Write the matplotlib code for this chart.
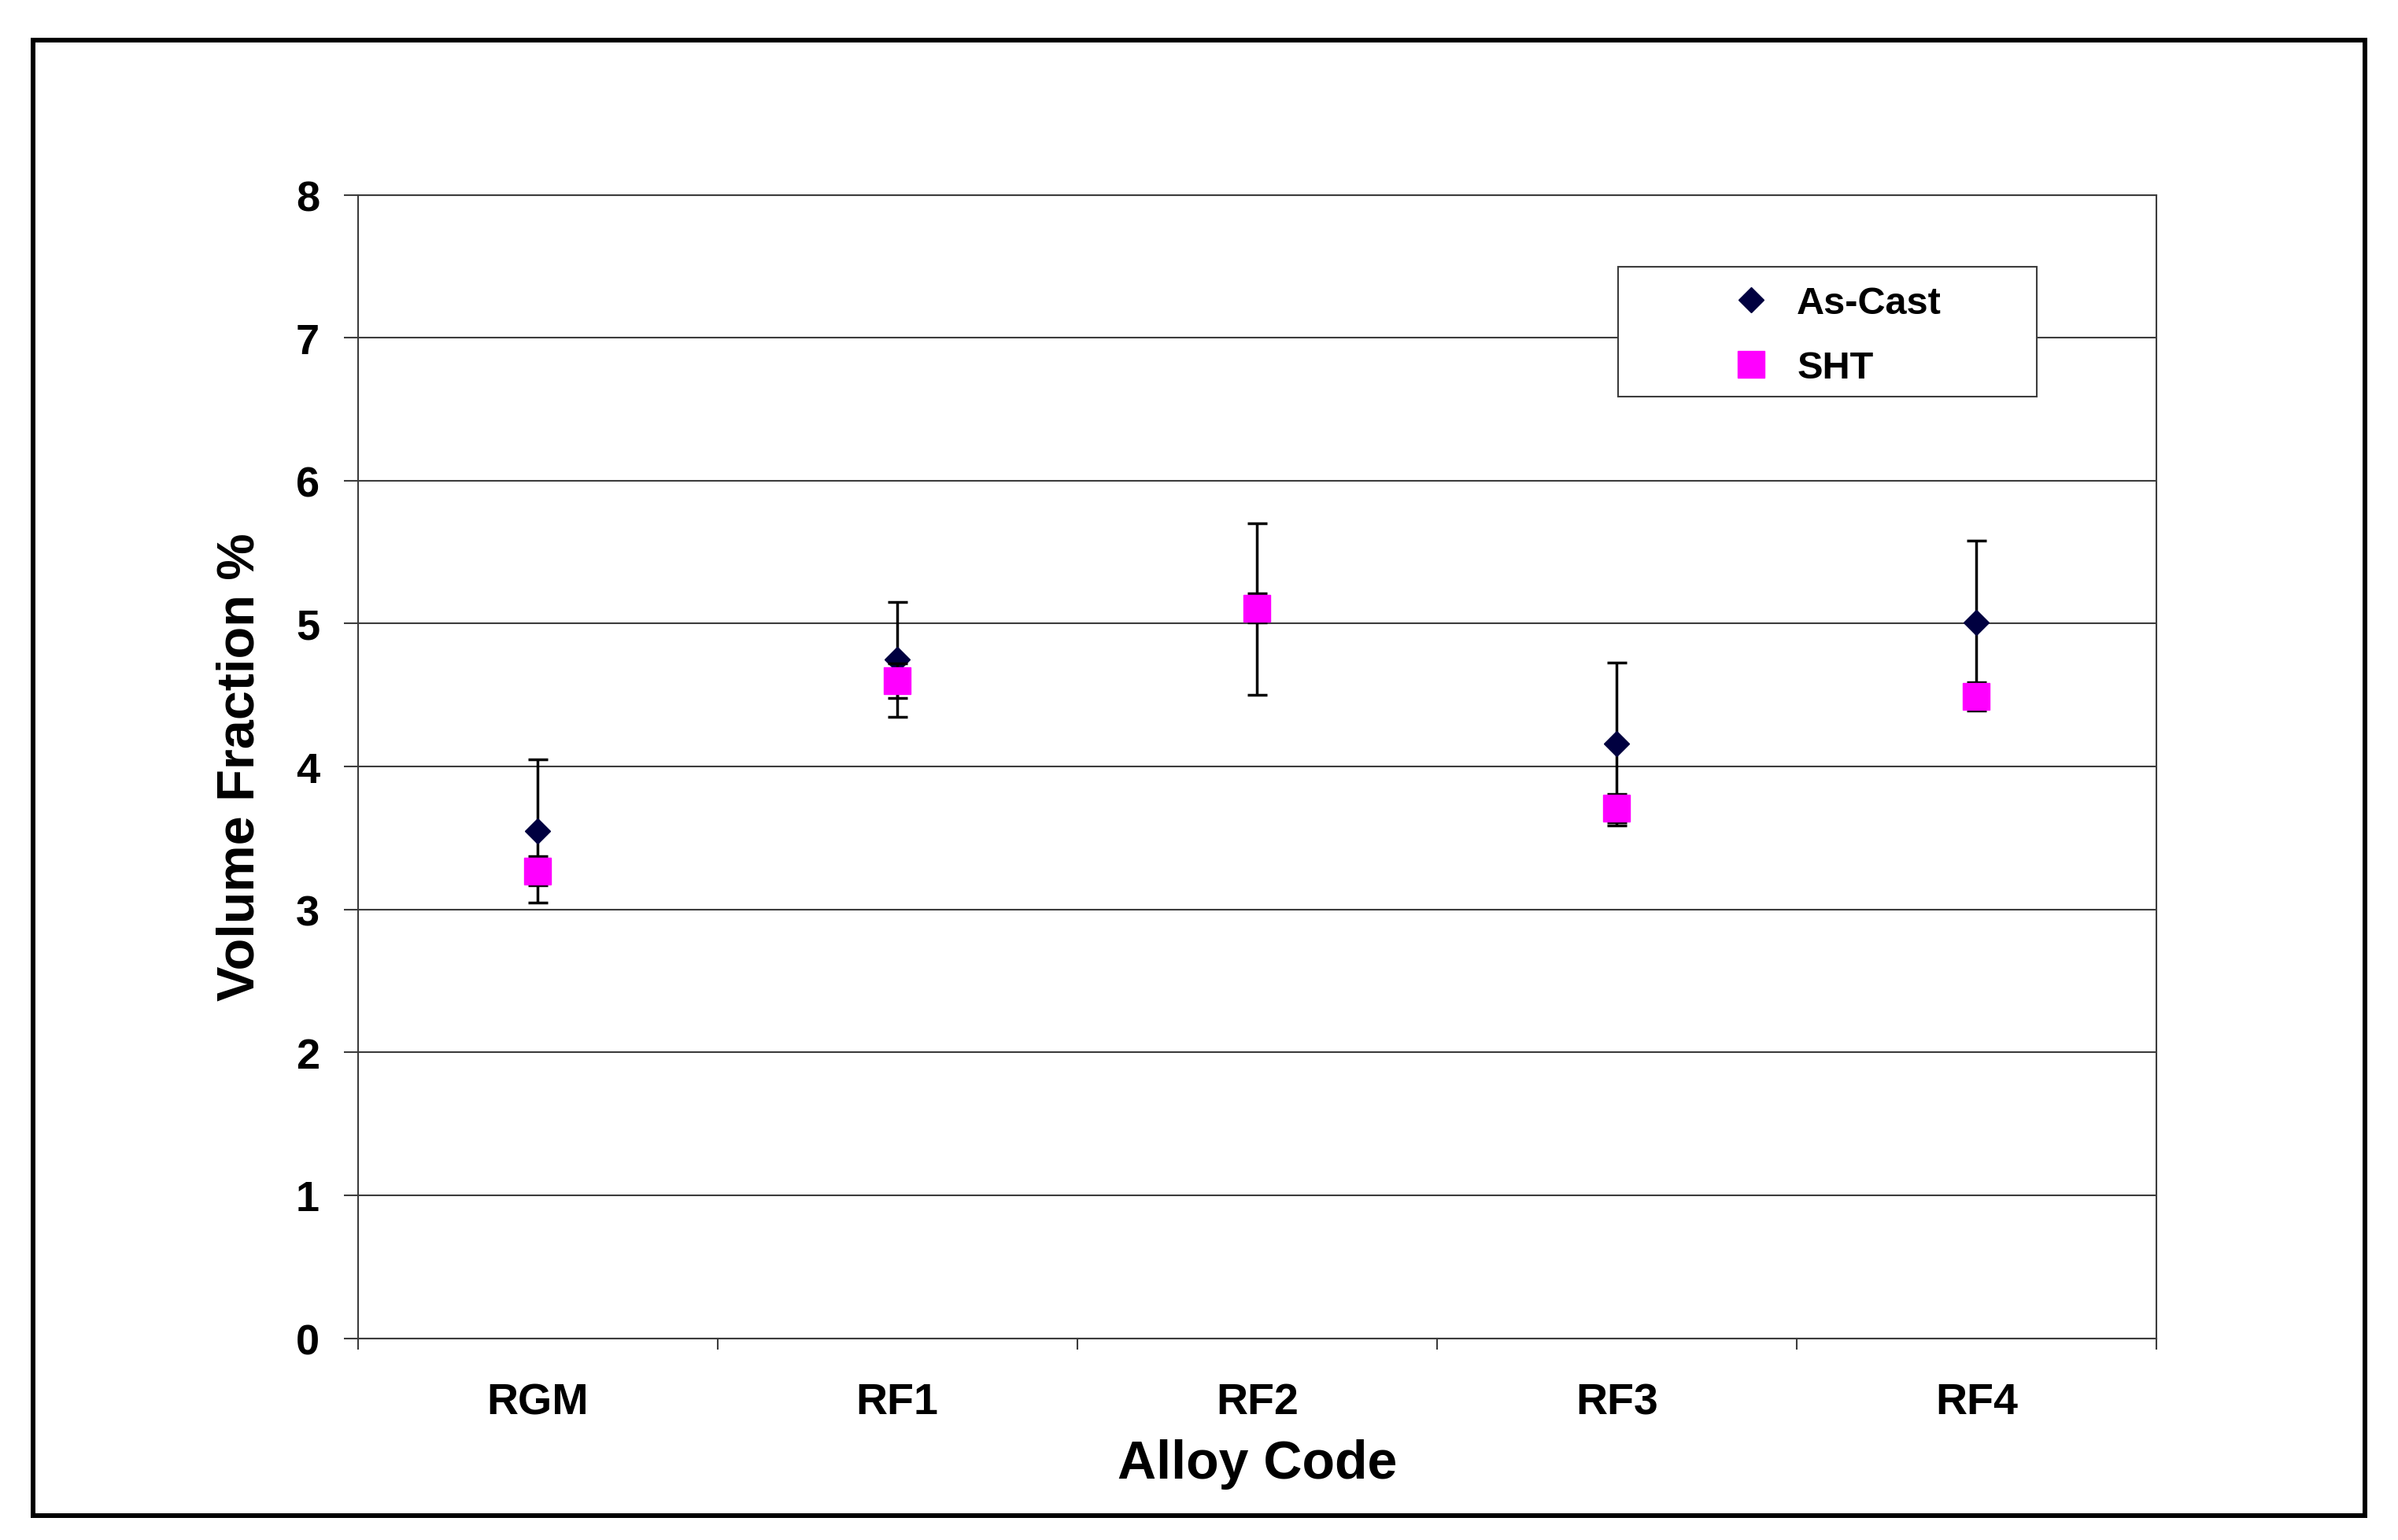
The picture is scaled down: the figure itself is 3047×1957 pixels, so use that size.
import matplotlib
matplotlib.use("Agg")
import matplotlib.pyplot as plt
from matplotlib.patches import Rectangle

plt.rcParams["font.family"] = ["Liberation Sans", "DejaVu Sans"]
plt.rcParams["font.weight"] = "bold"

# Data
alloys = ["RGM", "RF1", "RF2", "RF3", "RF4"]
as_cast = [3.55, 4.75, 5.10, 4.16, 5.01]
as_cast_err = [0.50, 0.40, 0.60, 0.57, 0.57]
sht = [3.27, 4.60, 5.11, 3.71, 4.49]
sht_err = [0.10, 0.12, 0.10, 0.10, 0.10]

grey = "#3c3c3c"

fig = plt.figure(figsize=(30.47, 19.58), dpi=100)
ax = fig.add_axes([0.1492, 0.131, 0.7500, 0.742])

x = list(range(1, len(alloys) + 1))

# As-Cast first, SHT on top (hides the RF2 diamond like in the original)
ax.errorbar(x, as_cast, yerr=as_cast_err, fmt="none", ecolor="black",
            elinewidth=2.5, capsize=9, capthick=2.5, zorder=3)
h1, = ax.plot(x, as_cast, "D", color="#000040", markersize=16,
              linestyle="none", zorder=4, label="As-Cast")
ax.errorbar(x, sht, yerr=sht_err, fmt="none", ecolor="black",
            elinewidth=2.5, capsize=9, capthick=2.5, zorder=5)
h2, = ax.plot(x, sht, "s", color="#ff00ff", markersize=24,
              linestyle="none", zorder=6, label="SHT")

ax.set_xlim(0.5, len(alloys) + 0.5)
ax.set_ylim(0, 8)
ax.set_yticks(range(0, 9))
ax.grid(axis="y", color=grey, linewidth=1.5, zorder=0)
ax.set_axisbelow(True)

# ticks on category boundaries, labels at centres
ax.set_xticks([i + 0.5 for i in range(0, len(alloys) + 1)])
ax.set_xticklabels([])
ax.set_xticks(x, minor=True)
ax.set_xticklabels(alloys, minor=True, fontsize=40, fontweight="bold")
ax.tick_params(axis="x", which="major", direction="out", length=10,
               width=1.5, color=grey)
ax.tick_params(axis="x", which="minor", length=0, pad=40)
ax.tick_params(axis="y", direction="out", length=13, width=1.5,
               color=grey, labelsize=39, pad=22)
for lbl in ax.get_yticklabels():
    lbl.set_fontweight("bold")

for s in ax.spines.values():
    s.set_color(grey)
    s.set_linewidth(1.5)

ax.set_xlabel("Alloy Code", fontsize=49, fontweight="bold", labelpad=14)
ax.set_ylabel("Volume Fraction %", fontsize=48, fontweight="bold", labelpad=28)

# legend box
ax.add_patch(Rectangle((0.7007, 0.8235), 0.233, 0.1135, transform=ax.transAxes,
                       facecolor="white", edgecolor=grey, linewidth=1.5,
                       zorder=7))
leg = ax.legend(handles=[h1, h2], loc="center left",
                bbox_to_anchor=(0.764, 0.8770), frameon=False,
                borderpad=0, borderaxespad=0, handlelength=1.0,
                handletextpad=0.7, labelspacing=0.75,
                prop={"size": 35, "weight": "bold"})
leg.set_zorder(8)

# outer frame around the whole picture
fig.patches.append(Rectangle((0.0138, 0.0158), 0.9724, 0.9576,
                             transform=fig.transFigure, fill=False,
                             edgecolor="black", linewidth=4.3))

fig.savefig("out.png", dpi=100)
